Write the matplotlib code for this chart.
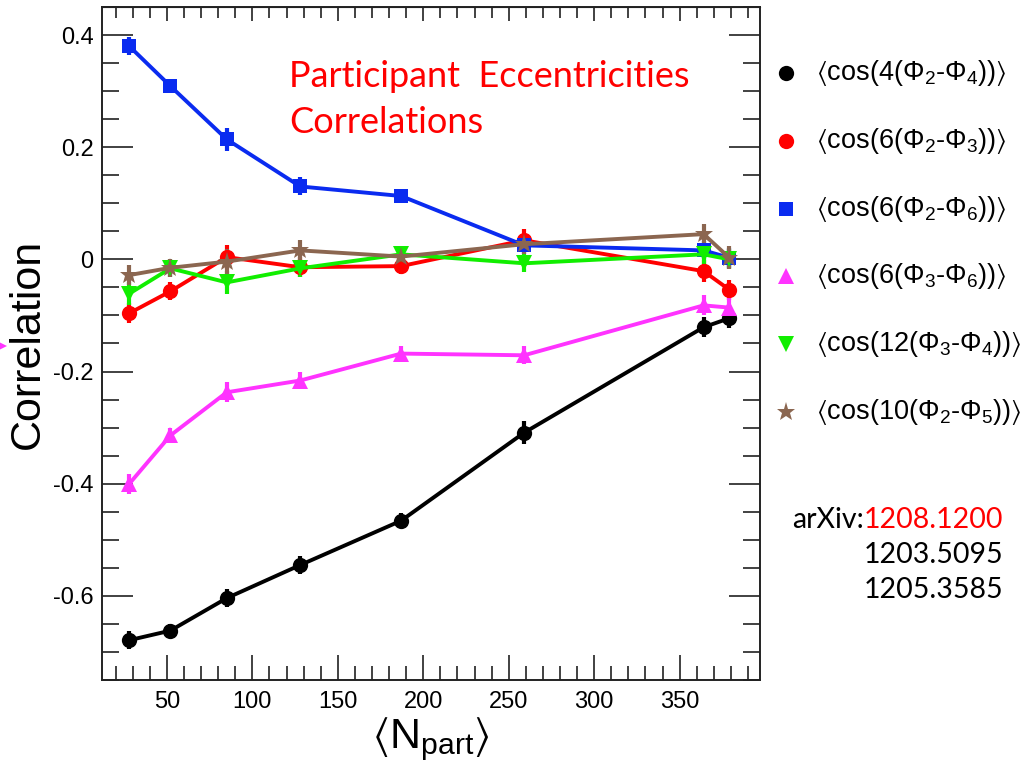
import matplotlib
matplotlib.use('Agg')
import matplotlib.pyplot as plt
from matplotlib.lines import Line2D
from matplotlib.ticker import MultipleLocator

# ─── Data ────────────────────────────────────────────────────────────────────
npart = [28, 52, 85, 128, 187, 259, 364, 379]

c42_24 = [-0.679, -0.662, -0.604, -0.545, -0.466, -0.309, -0.121, -0.105]
c42_24_err = [0.016, 0.012, 0.016, 0.016, 0.013, 0.020, 0.018, 0.018]

c62_23 = [-0.096, -0.057, 0.004, -0.014, -0.012, 0.034, -0.021, -0.054]
c62_23_err = [0.018, 0.016, 0.022, 0.018, 0.014, 0.020, 0.020, 0.018]

c62_26 = [0.380, 0.309, 0.214, 0.130, 0.113, 0.025, 0.016, 0.003]
c62_26_err = [0.016, 0.013, 0.020, 0.016, 0.012, 0.016, 0.016, 0.018]

c63_36 = [-0.400, -0.314, -0.237, -0.216, -0.168, -0.171, -0.082, -0.086]
c63_36_err = [0.018, 0.014, 0.018, 0.016, 0.014, 0.016, 0.018, 0.018]

c123_34 = [-0.061, -0.016, -0.041, -0.016, 0.009, -0.007, 0.009, 0.000]
c123_34_err = [0.020, 0.016, 0.020, 0.016, 0.014, 0.016, 0.018, 0.018]

c102_25 = [-0.028, -0.015, -0.004, 0.016, 0.005, 0.027, 0.045, 0.003]
c102_25_err = [0.018, 0.016, 0.022, 0.018, 0.014, 0.018, 0.018, 0.020]

labels = [r'$\langle$cos(4(Φ$_2$-Φ$_4$))$\rangle$',
          r'$\langle$cos(6(Φ$_2$-Φ$_3$))$\rangle$',
          r'$\langle$cos(6(Φ$_2$-Φ$_6$))$\rangle$',
          r'$\langle$cos(6(Φ$_3$-Φ$_6$))$\rangle$',
          r'$\langle$cos(12(Φ$_3$-Φ$_4$))$\rangle$',
          r'$\langle$cos(10(Φ$_2$-Φ$_5$))$\rangle$']

refs = ['1208.1200', '1203.5095', '1205.3585']

# ─── Style ───────────────────────────────────────────────────────────────────
plt.rcParams['font.family'] = ['Liberation Sans', 'DejaVu Sans']
plt.rcParams['mathtext.fontset'] = 'custom'
plt.rcParams['mathtext.rm'] = 'Liberation Sans'
plt.rcParams['mathtext.it'] = 'Liberation Sans'
plt.rcParams['mathtext.default'] = 'regular'
plt.rcParams['mathtext.fallback'] = 'stixsans'

series = [
    (c42_24, c42_24_err, '#000000', 'o', 11),
    (c62_23, c62_23_err, '#FF0000', 'o', 11),
    (c62_26, c62_26_err, '#0A2BF0', 's', 10.5),
    (c63_36, c63_36_err, '#FF33FF', '^', 11),
    (c123_34, c123_34_err, '#11EE00', 'v', 11),
    (c102_25, c102_25_err, '#8B6650', '*', 14),
]

W, H = 1032, 778
fig = plt.figure(figsize=(W / 100, H / 100), dpi=100)
ax = fig.add_axes([102 / W, 1 - 680 / H, 658 / W, 673 / H])

for vals, errs, col, mk, ms in series:
    ax.errorbar(npart, vals, yerr=errs, color=col, marker=mk, markersize=ms,
                linewidth=2.8, elinewidth=3, capsize=0, markeredgewidth=0)

ax.set_xlim(12, 397)
ax.set_ylim(-0.75, 0.45)
ax.xaxis.set_major_locator(MultipleLocator(50))
ax.xaxis.set_minor_locator(MultipleLocator(10))
ax.yaxis.set_major_locator(MultipleLocator(0.2))
ax.yaxis.set_minor_locator(MultipleLocator(0.05))
ax.set_xticks([50, 100, 150, 200, 250, 300, 350])
ax.set_yticks([-0.6, -0.4, -0.2, 0, 0.2, 0.4])
ax.set_yticklabels(['-0.6', '-0.4', '-0.2', '0', '0.2', '0.4'])
ax.tick_params(which='both', direction='in', top=False, right=True,
               labelsize=17, width=1.3, color='#333333')
ax.tick_params(axis='x', which='major', length=18, pad=8)
ax.tick_params(axis='x', which='minor', length=10)
ax.tick_params(axis='y', which='major', length=22, pad=6)
ax.tick_params(axis='y', which='minor', length=12)
for sp in ax.spines.values():
    sp.set_linewidth(1.4)
    sp.set_color('#222222')

# shorter ticks along the top edge
top = ax.secondary_xaxis('top')
top.xaxis.set_major_locator(MultipleLocator(50))
top.xaxis.set_minor_locator(MultipleLocator(10))
top.tick_params(which='both', direction='in', labeltop=False, width=1.3,
                color='#333333')
top.tick_params(which='major', length=10)
top.tick_params(which='minor', length=8)

ax.set_ylabel('Correlation', fontsize=31, labelpad=4)
ax.set_xlabel(r'$\langle$N$_{part}$$\rangle$', fontsize=31, labelpad=2)

title_font = ['Lato', 'DejaVu Sans']
fig.text(289 / W, 1 - 87 / H, 'Participant  Eccentricities', color='#FF0000',
         fontsize=26, family=title_font, va='baseline')
fig.text(289 / W, 1 - 133 / H, 'Correlations', color='#FF0000',
         fontsize=26, family=title_font, va='baseline')

# legend, drawn by hand at the right
for i, ((vals, errs, col, mk, ms), lab) in enumerate(zip(series, labels)):
    yf = 1 - (73 + i * 67.8) / H
    fig.add_artist(Line2D([786 / W], [yf], marker=mk, color=col,
                          markersize=ms, markeredgewidth=0,
                          linestyle='none', transform=fig.transFigure))
    fig.text(816 / W, yf, lab, fontsize=19.5, va='center', ha='left')

# arXiv references
ref_y = [528, 563, 598]
ref_texts = []
for i, r in enumerate(refs):
    t = fig.text(1003 / W, 1 - ref_y[i] / H, r, fontsize=20.5,
                 color='#FF0000' if i == 0 else 'black',
                 family=title_font, va='baseline', ha='right')
    ref_texts.append(t)
fig.canvas.draw()
red = ref_texts[0].get_window_extent()
fig.text(red.x0 / W, 1 - ref_y[0] / H, 'arXiv:', fontsize=20.5,
         family=title_font, va='baseline', ha='right')

# small magenta arrowhead at the left edge
fig.add_artist(Line2D([3 / W], [1 - 346 / H], marker='>', color='#FF33FF',
                      markersize=6, markeredgewidth=0, linestyle='none',
                      transform=fig.transFigure))

fig.savefig('out.png', dpi=100)
